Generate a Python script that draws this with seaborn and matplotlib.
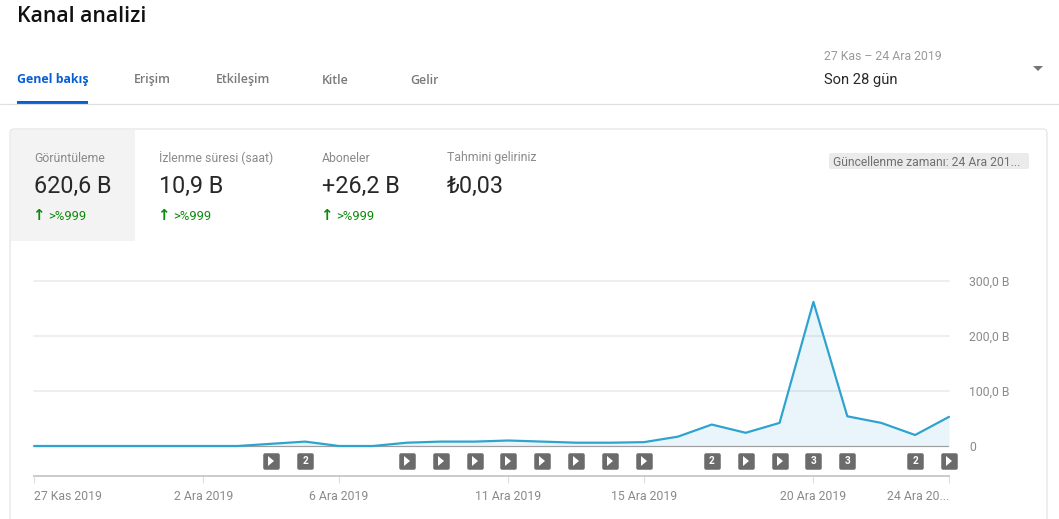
import matplotlib
matplotlib.use("Agg")
import matplotlib.pyplot as plt
from matplotlib.markers import MarkerStyle
from matplotlib.patches import FancyBboxPatch, Rectangle, Polygon
from matplotlib.transforms import Affine2D
import pandas as pd
import seaborn as sns

days = list(range(28))
views = [0, 0, 0, 0, 0, 0, 0, 4, 8, 0, 0, 6, 8, 8, 10, 8, 6, 6, 7, 17, 39, 24, 42, 262, 54, 42, 20, 53]
tick_days = [0, 5, 9, 14, 18, 23, 27]
tick_labels = ["27 Kas 2019", "2 Ara 2019", "6 Ara 2019", "11 Ara 2019", "15 Ara 2019", "20 Ara 2019", "24 Ara 20..."]
y_ticks = [0, 100, 200, 300]
y_labels = ["0", "100,0 B", "200,0 B", "300,0 B"]
video_days = [7, 8, 11, 12, 13, 14, 15, 16, 17, 18, 20, 21, 22, 23, 24, 26, 27]
video_counts = ["", "2", "", "", "", "", "", "", "", "", "2", "", "", "3", "3", "2", ""]
tabs = ["Genel bakış", "Erişim", "Etkileşim", "Kitle", "Gelir"]
metric_names = ["Görüntüleme", "İzlenme süresi (saat)", "Aboneler", "Tahmini geliriniz"]
metric_values = ["620,6 B", "10,9 B", "+26,2 B", "₺0,03"]
metric_changes = [">%999", ">%999", ">%999", ""]

W, H = 1059, 519
sns.set_theme(style="white")
plt.rcParams["font.family"] = ["Roboto", "DejaVu Sans"]
PX = 72 / 100

fig = plt.figure(figsize=(W / 100, H / 100), dpi=100, facecolor="white")

# page furniture, addressed in pixels
ui = fig.add_axes([0, 0, 1, 1], zorder=0)
ui.set_xlim(0, W)
ui.set_ylim(H, 0)
ui.axis("off")

ui.text(17, 17, "Kanal analizi", fontsize=21.3 * PX, family="Open Sans", color="#111111", va="center", weight="semibold")
for label, x, col, wt in zip(tabs, [17, 134, 216, 322, 410],
                             ["#065fd4", "#7a7a7a", "#7a7a7a", "#7a7a7a", "#7a7a7a"],
                             ["bold", "semibold", "semibold", "semibold", "semibold"]):
    ui.text(x, 80, label, fontsize=12.4 * PX, family="Open Sans", color=col, va="center", weight=wt)
ui.add_patch(Rectangle((17, 100.5), 71, 3, color="#065fd4", lw=0))
ui.plot([0, W], [104, 104], color="#e0e0e0", lw=1 * PX * 1.2)

ui.text(824, 57, "27 Kas – 24 Ara 2019", fontsize=12.2 * PX, color="#9a9a9a", va="center")
ui.text(824, 80, "Son 28 gün", fontsize=14.8 * PX, color="#282828", va="center")
ui.add_patch(Polygon([[1033, 66], [1043, 66], [1038, 71]], color="#757575", lw=0))

ui.add_patch(FancyBboxPatch((10, 129), 1037, 420, boxstyle="round,pad=0,rounding_size=4",
                            fc="white", ec="#e0e0e0", lw=0.75))
ui.add_patch(Rectangle((10.5, 129.5), 124.5, 111.5, color="#f3f3f3", lw=0))

for name, value, change, x in zip(metric_names, metric_values, metric_changes, [34, 159, 322, 447]):
    ui.text(x, 158, name, fontsize=12.3 * PX, color="#8a8a8a", va="center")
    ui.text(x, 186, value, fontsize=23.4 * PX, color="#282828", va="center")
    if change:
        ui.text(x + 4, 216, "↑", fontsize=15 * PX, color="#0a8a0a", va="center", ha="center",
                family="DejaVu Sans", weight="bold")
        ui.text(x + 14, 217, change, fontsize=13 * PX, color="#0a8a0a", va="center")

ui.add_patch(FancyBboxPatch((829, 153), 200, 16, boxstyle="round,pad=0,rounding_size=2", fc="#ebebeb", ec="none"))
ui.text(833, 162, "Güncellenme zamanı: 24 Ara 201...", fontsize=12.1 * PX, color="#6f6f6f", va="center")

# chart: pixel box x 34-949, y 281 (300 B) to 476 (axis line)
left, right, top, bottom = 34, 949, 281, 476
ax = fig.add_axes([left / W, 1 - bottom / H, (right - left) / W, (bottom - top) / H], zorder=1)
ax.patch.set_alpha(0)
zero_px = 446
ax.set_ylim(-(bottom - zero_px) / ((zero_px - top) / 300), 300)
ax.set_xlim(0, 27)

for v in y_ticks[1:]:
    ax.axhline(v, color="#eeeeee", lw=2 * PX, zorder=1, clip_on=False)
df = pd.DataFrame({"day": days, "views": views})
ax.fill_between(days, views, 0, color="#2ea3cf", alpha=0.1, lw=0, zorder=2)
ax.axhline(0, color="#9e9e9e", lw=1.2 * PX, zorder=3)
sns.lineplot(data=df, x="day", y="views", ax=ax, color="#2ea3cf", lw=2.2 * PX, zorder=4, clip_on=False)
ax.set_xlabel("")
ax.set_ylabel("")

for s in ["top", "left", "right"]:
    ax.spines[s].set_visible(False)
ax.spines["bottom"].set_color("#cccccc")
ax.spines["bottom"].set_linewidth(2 * PX)

ax.set_xticks(tick_days)
ax.set_xticklabels(tick_labels)
ax.tick_params(axis="x", length=5, width=1.2 * PX, color="#e0e0e0", labelsize=12.2 * PX,
               labelcolor="#8a8a8a", pad=5, bottom=True)
labels = ax.get_xticklabels()
labels[0].set_ha("left")
labels[-1].set_ha("right")

ax.yaxis.tick_right()
ax.set_yticks(y_ticks)
ax.set_yticklabels(y_labels)
ax.tick_params(axis="y", length=0, labelsize=12.2 * PX, labelcolor="#8a8a8a", pad=14.5)

# video markers
marker_y = -(460.5 - zero_px) / ((zero_px - top) / 300)
ax.plot(video_days, [marker_y] * len(video_days), ls="none",
        marker=MarkerStyle("s", joinstyle="round"), ms=13 * PX, mew=3.5 * PX,
        color="#6b6b6b", clip_on=False, zorder=5)
play = MarkerStyle(">", transform=Affine2D().scale(0.65, 1.0))
for d, c in zip(video_days, video_counts):
    if c:
        ax.text(d, marker_y, c, color="white", fontsize=10 * PX, weight="bold",
                ha="center", va="center", zorder=6)
    else:
        ax.plot([d], [marker_y], ls="none", marker=play, ms=10 * PX, mew=0, color="white",
                clip_on=False, zorder=6)

fig.savefig("out.png", dpi=100)
